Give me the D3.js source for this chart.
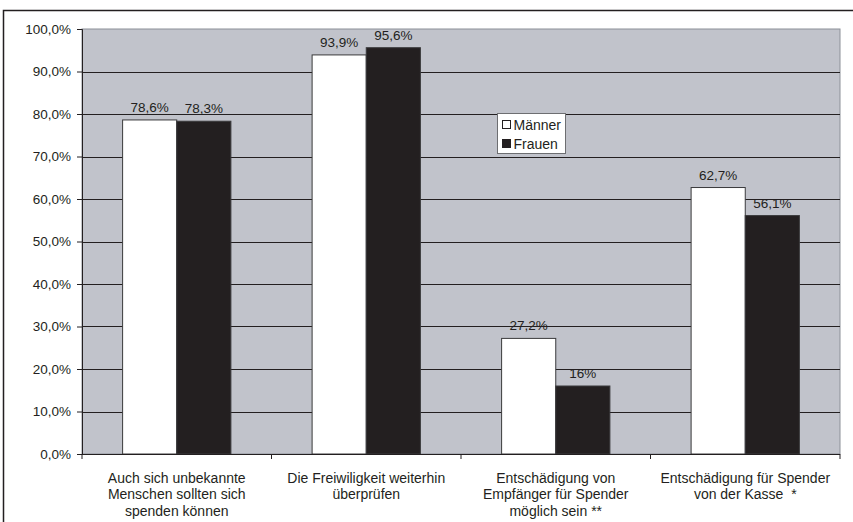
<!DOCTYPE html>
<html lang="de">
<head>
<meta charset="UTF-8">
<title>Männer / Frauen</title>
<style>
    body { margin: 0; background: #fff; }
    svg { display: block; font-family: "Liberation Sans", Arial, sans-serif; }
    .tick text { fill: #231f20; font-size: 13.5px; }
    .value-label { fill: #231f20; font-size: 13.5px; text-anchor: middle; }
    .cat-label { fill: #231f20; font-size: 14px; text-anchor: middle; white-space: pre; }
</style>
</head>
<body>
<svg id="chart" width="853" height="522"></svg>
<script src="https://cdn.jsdelivr.net/npm/d3@7/dist/d3.min.js"></script>
<script>
    // data
    const categories = [
        ["Auch sich unbekannte", "Menschen sollten sich", "spenden können"],
        ["Die Freiwiligkeit weiterhin", "überprüfen"],
        ["Entschädigung von", "Empfänger für Spender", "möglich sein **"],
        ["Entschädigung für Spender", "von der Kasse  *"]
    ];
    const seriesNames = ["Männer", "Frauen"];
    const maenner = [78.6, 93.9, 27.2, 62.7];
    const frauen = [78.3, 95.6, 16, 56.1];
    const maennerLabels = ["78,6%", "93,9%", "27,2%", "62,7%"];
    const frauenLabels = ["78,3%", "95,6%", "16%", "56,1%"];
    const yTicks = [0, 10, 20, 30, 40, 50, 60, 70, 80, 90, 100];

    const colors = ["#ffffff", "#231f20"];
    const svg = d3.select("#chart");

    const plotL = 82, plotR = 840, plotT = 29, plotB = 454;

    // outer frame (runs off right and bottom edge)
    svg.append("rect")
        .attr("x", 3.5).attr("y", 10.5)
        .attr("width", 900).attr("height", 600)
        .attr("fill", "#fff")
        .attr("stroke", "#231f20")
        .attr("stroke-width", 1.5);

    const x0 = d3.scaleBand()
        .domain(d3.range(categories.length))
        .range([plotL, plotR])
        .paddingInner(0).paddingOuter(0);

    // gap width 150% -> bar = band / 3.5
    const barW = x0.bandwidth() / 3.5;
    const x1 = d3.scaleBand()
        .domain(d3.range(seriesNames.length))
        .range([barW * 0.75, barW * 2.75])
        .padding(0);

    const y = d3.scaleLinear().domain([0, 100]).range([plotB, plotT]);

    // plot background
    svg.append("rect")
        .attr("x", plotL).attr("y", plotT)
        .attr("width", plotR - plotL).attr("height", plotB - plotT)
        .attr("fill", "#c1c3cb")
        .attr("stroke", "#8c9098")
        .attr("stroke-width", 1);

    // gridlines
    svg.append("g")
        .selectAll("line")
        .data(yTicks.filter(d => d > 0 && d < 100))
        .join("line")
        .attr("x1", plotL).attr("x2", plotR)
        .attr("y1", d => Math.round(y(d)) + 0.5)
        .attr("y2", d => Math.round(y(d)) + 0.5)
        .attr("stroke", "#231f20")
        .attr("stroke-width", 1);

    // bars
    const rows = categories.map((c, i) => ({i: i, vals: [maenner[i], frauen[i]], labels: [maennerLabels[i], frauenLabels[i]]}));
    const groups = svg.append("g")
        .selectAll("g")
        .data(rows)
        .join("g")
        .attr("transform", d => "translate(" + x0(d.i) + ",0)");

    groups.selectAll("rect")
        .data(d => d.vals.map((v, s) => ({s: s, v: v})))
        .join("rect")
        .attr("x", d => x1(d.s))
        .attr("y", d => y(d.v))
        .attr("width", x1.bandwidth())
        .attr("height", d => plotB - y(d.v))
        .attr("fill", d => colors[d.s])
        .attr("stroke", "#3a3a3c")
        .attr("stroke-width", 1);

    groups.selectAll("text")
        .data(d => d.vals.map((v, s) => ({s: s, v: v, t: d.labels[s]})))
        .join("text")
        .attr("class", "value-label")
        .attr("x", d => x1(d.s) + x1.bandwidth() / 2)
        .attr("y", d => y(d.v) - 8)
        .text(d => d.t);

    // y axis
    const yAxis = d3.axisLeft(y)
        .tickValues(yTicks)
        .tickSize(5)
        .tickPadding(6)
        .tickFormat(d => d.toFixed(1).replace(".", ",") + "%");
    const ya = svg.append("g")
        .attr("transform", "translate(" + plotL + ",0)")
        .call(yAxis);
    ya.select(".domain").attr("stroke", "#231f20");
    ya.selectAll(".tick line").attr("stroke", "#231f20");
    ya.attr("font-family", null).attr("font-size", null);

    // x axis with boundary ticks
    const xa = svg.append("g");
    xa.append("line")
        .attr("x1", plotL).attr("x2", plotR)
        .attr("y1", plotB + 0.5).attr("y2", plotB + 0.5)
        .attr("stroke", "#231f20");
    xa.selectAll("line.bt")
        .data(d3.range(categories.length + 1))
        .join("line")
        .attr("class", "bt")
        .attr("x1", d => d < categories.length ? x0(d) : plotR)
        .attr("x2", d => d < categories.length ? x0(d) : plotR)
        .attr("y1", plotB).attr("y2", plotB + 5)
        .attr("stroke", "#231f20");

    const catText = svg.append("g")
        .selectAll("text")
        .data(categories)
        .join("text")
        .attr("class", "cat-label")
        .attr("x", (d, i) => x0(i) + x0.bandwidth() / 2)
        .attr("y", 482.5);
    catText.selectAll("tspan")
        .data(d => d)
        .join("tspan")
        .attr("x", function () { return this.parentNode.getAttribute("x"); })
        .attr("dy", (d, i) => i === 0 ? 0 : 16.7)
        .text(d => d);

    // legend
    const lg = svg.append("g").attr("transform", "translate(497.5,113.5)");
    lg.append("rect")
        .attr("width", 68).attr("height", 40)
        .attr("fill", "#fff")
        .attr("stroke", "#6d6e71");
    lg.selectAll("rect.key")
        .data(seriesNames)
        .join("rect")
        .attr("class", "key")
        .attr("x", 5).attr("y", (d, i) => 7 + i * 19)
        .attr("width", 8).attr("height", 8)
        .attr("fill", (d, i) => colors[i])
        .attr("stroke", "#231f20");
    lg.selectAll("text")
        .data(seriesNames)
        .join("text")
        .attr("x", 16).attr("y", (d, i) => 16 + i * 19)
        .attr("fill", "#231f20")
        .attr("font-size", 14)
        .text(d => d);
</script>
</body>
</html>
